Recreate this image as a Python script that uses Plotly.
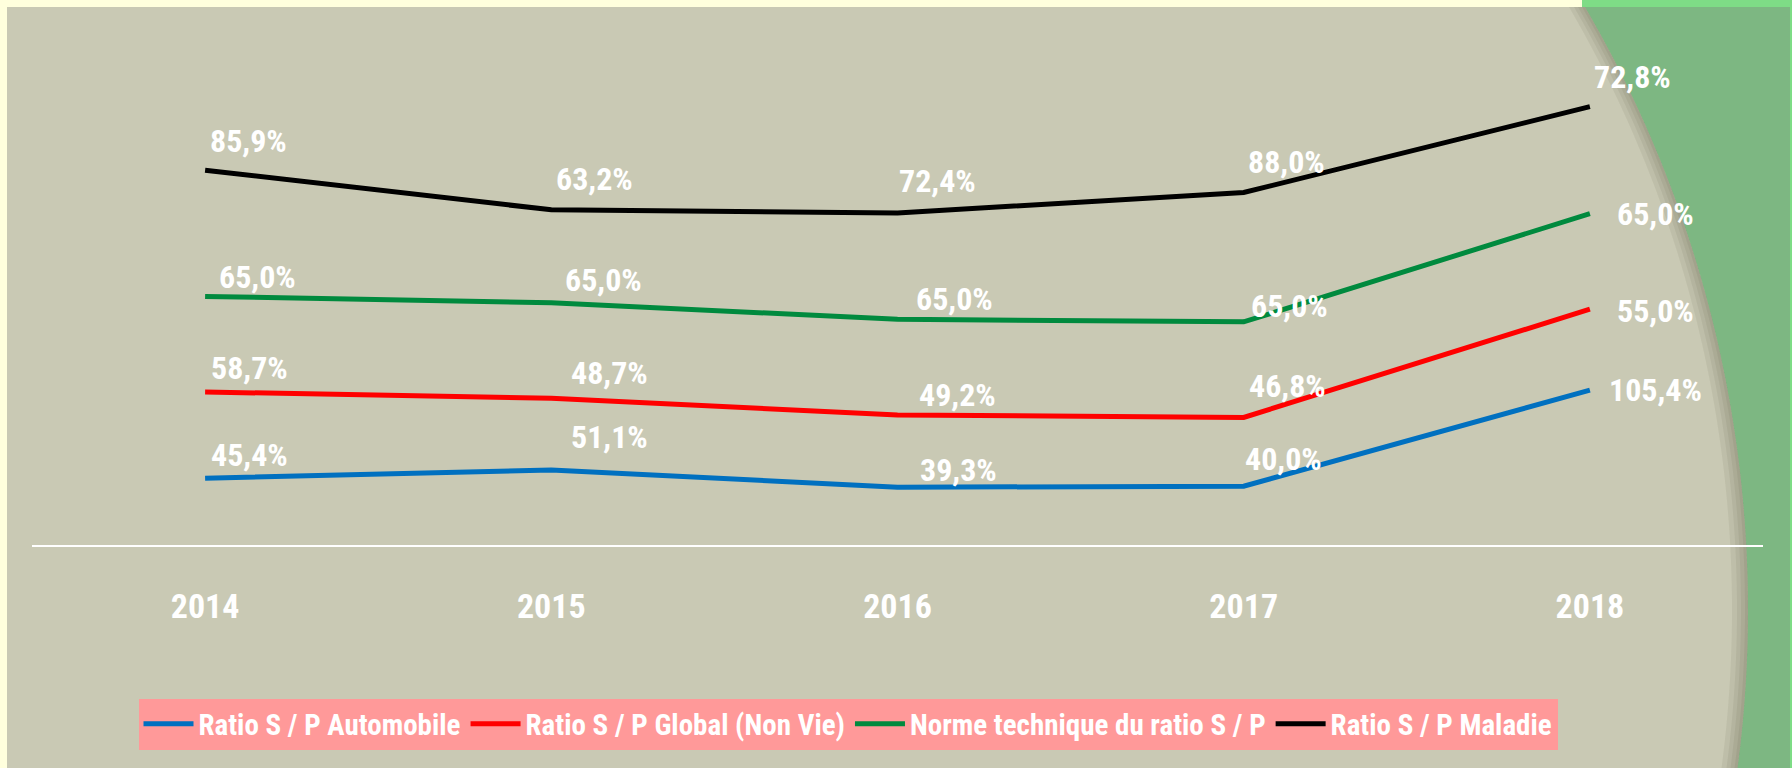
import numpy as np
import plotly.graph_objects as go

# data
years = ['2014', '2015', '2016', '2017', '2018']
ratio_auto = [45.4, 51.1, 39.3, 40.0, 105.4]
ratio_global = [58.7, 48.7, 49.2, 46.8, 55.0]
norme_technique = [65.0, 65.0, 65.0, 65.0, 65.0]
ratio_maladie = [85.9, 63.2, 72.4, 88.0, 72.8]

series_names = ['Ratio S / P Automobile', 'Ratio S / P Global (Non Vie)',
                'Norme technique du ratio S / P', 'Ratio S / P Maladie']
series_values = [ratio_auto, ratio_global, norme_technique, ratio_maladie]
series_colors = ['#0070C0', '#FF0000', '#008A3E', '#000000']

# label offsets in px (dx right, dy down) relative to each point
label_offsets = [
    [(44, -23), (58, -33), (61, -17), (40, -27), (66, 0)],
    [(44, -24), (58, -25), (60, -20), (44, -31), (66, 2)],
    [(52, -19), (52, -23), (57, -20), (46, -16), (66, 0)],
    [(43, -29), (43, -31), (40, -32), (43, -30), (43, -30)],
]

W, H = 1792, 768
FONT = 'Roboto Condensed'


def px(x):
    return x / W


def py(y):
    return 1 - y / H


fig = go.Figure()

# stacked lines (each series drawn on top of the previous ones)
stacked = np.cumsum(np.array(series_values), axis=0)

for name, vals, col in zip(series_names, series_values, series_colors):
    fig.add_trace(go.Scatter(
        x=years, y=vals, name=name, mode='lines',
        stackgroup='one', fill='none',
        line=dict(color=col, width=5),
    ))

# data labels
for s, vals in enumerate(series_values):
    for i, v in enumerate(vals):
        dx, dy = label_offsets[s][i]
        fig.add_annotation(
            x=i, y=float(stacked[s][i]), xref='x', yref='y',
            text='<b>' + f'{v:.1f}%'.replace('.', ',') + '</b>', showarrow=False,
            xanchor='center', yanchor='middle', xshift=dx, yshift=-dy,
            font=dict(family=FONT, size=32, color='white'),
        )

# background: light green strip, green panel, gray panel with curved edge
shapes = []
shapes.append(dict(type='rect', xref='paper', yref='paper', layer='below',
                   x0=px(1582), x1=1, y0=0, y1=1, line_width=0, fillcolor='#7EDC86'))
shapes.append(dict(type='rect', xref='paper', yref='paper', layer='below',
                   x0=px(1582), x1=px(1790), y0=0, y1=py(7), line_width=0, fillcolor='#7DB782'))

cx, cy, R = 551.0, 610.0, 1197.0
ys = np.linspace(7, 768, 60)


def curve_x(off):
    return cx + np.sqrt(R ** 2 - (ys - cy) ** 2) - off


def region_path(x_left_pts, x_right_pts):
    pts = [(x, y) for x, y in zip(x_right_pts, ys)]
    pts += [(x, y) for x, y in zip(x_left_pts[::-1], ys[::-1])]
    return 'M ' + ' L '.join(f'{px(x):.5f},{py(y):.5f}' for x, y in pts) + ' Z'


edge = curve_x(0)
shapes.append(dict(type='path', xref='paper', yref='paper', layer='below',
                   path=region_path(np.full_like(ys, 7.0), edge),
                   line_width=0, fillcolor='#C9C9B4'))
# soft shadow along the curved edge
for off in [16, 11, 7, 3]:
    shapes.append(dict(type='path', xref='paper', yref='paper', layer='below',
                       path=region_path(curve_x(off), edge),
                       line_width=0, fillcolor='rgba(60,60,30,0.07)'))

fig.update_layout(
    width=W, height=H,
    margin=dict(l=0, r=0, t=0, b=0),
    paper_bgcolor='#FFFFDD',
    plot_bgcolor='rgba(0,0,0,0)',
    shapes=shapes,
    showlegend=True,
    legend=dict(
        orientation='h', x=px(848), xanchor='center', y=py(724), yanchor='middle',
        bgcolor='#FF9999', font=dict(family=FONT, size=29, color='white', weight='bold'),
        itemwidth=50, traceorder='normal',
    ),
    xaxis=dict(
        domain=[px(32), px(1763)], range=[-0.5, 4.5], type='category',
        showgrid=False, zeroline=False, showline=True, linecolor='white', linewidth=2,
        ticks='', ticklabelstandoff=30,
        tickfont=dict(family=FONT, size=34, color='white', weight='bold'),
    ),
    yaxis=dict(
        domain=[py(545), py(30.5)], range=[0, 350],
        visible=False, showgrid=False, zeroline=False,
    ),
)

fig.write_html('out.html', config={'displayModeBar': False},
               post_script="document.body.style.margin='0';")
